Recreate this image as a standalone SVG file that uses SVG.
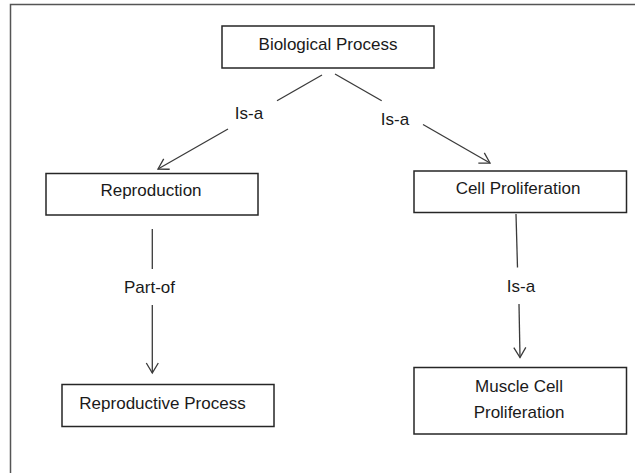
<svg xmlns="http://www.w3.org/2000/svg" width="635" height="473" viewBox="0 0 635 473">
  <style>
    .box { fill: #ffffff; stroke: #262626; stroke-width: 1.5; }
    .lbl { font-family: "Liberation Sans", Arial, sans-serif; font-size: 17px; fill: #1a1a1a; text-anchor: middle; }
    .edge { fill: none; stroke: #3a3a3a; stroke-width: 1.3; }
    .frame { fill: none; stroke: #555555; stroke-width: 1.5; }
  </style>
  <defs>
    <marker id="open-v" viewBox="-12 -7 14 14" refX="0" refY="0" markerWidth="14" markerHeight="14" markerUnits="userSpaceOnUse" orient="auto">
      <path d="M-10,-6 L0,0 L-10,6" fill="none" stroke="#3a3a3a" stroke-width="1.3"/>
    </marker>
  </defs>

  <rect width="635" height="473" fill="#ffffff"/>
  <path class="frame" d="M10.5,473 V4.5 H635"/>

  <g id="connectors">
    <!-- Biological Process -> Reproduction (Is-a) -->
    <line class="edge" x1="322" y1="75" x2="277" y2="100.8"/>
    <line class="edge" x1="228" y1="129" x2="158" y2="169" marker-end="url(#open-v)"/>
    <text class="lbl" x="249" y="119">Is-a</text>
    <!-- Biological Process -> Cell Proliferation (Is-a) -->
    <line class="edge" x1="335" y1="74" x2="381.7" y2="100.8"/>
    <line class="edge" x1="423" y1="124.5" x2="490" y2="163" marker-end="url(#open-v)"/>
    <text class="lbl" x="395" y="124.5">Is-a</text>
    <!-- Reproduction -> Reproductive Process (Part-of) -->
    <line class="edge" x1="152.3" y1="229" x2="152.3" y2="269"/>
    <line class="edge" x1="152.3" y1="305" x2="152.3" y2="373" marker-end="url(#open-v)"/>
    <text class="lbl" x="149.5" y="292.5">Part-of</text>
    <!-- Cell Proliferation -> Muscle Cell Proliferation (Is-a) -->
    <line class="edge" x1="516" y1="214" x2="517.5" y2="267.5"/>
    <line class="edge" x1="519" y1="304" x2="520" y2="357.5" marker-end="url(#open-v)"/>
    <text class="lbl" x="521" y="291.5">Is-a</text>
  </g>

  <g id="biological-process">
    <rect class="box" x="222" y="26" width="212" height="42"/>
    <text class="lbl" x="328" y="49.5">Biological Process</text>
  </g>
  <g id="reproduction">
    <rect class="box" x="46" y="173.5" width="212" height="41.5"/>
    <text class="lbl" x="151" y="195.5">Reproduction</text>
  </g>
  <g id="cell-proliferation">
    <rect class="box" x="414" y="171" width="212.5" height="41.5"/>
    <text class="lbl" x="518" y="193.5">Cell Proliferation</text>
  </g>
  <g id="reproductive-process">
    <rect class="box" x="62" y="384.5" width="212" height="42"/>
    <text class="lbl" x="162.5" y="409">Reproductive Process</text>
  </g>
  <g id="muscle-cell-proliferation">
    <rect class="box" x="414" y="367.5" width="212.5" height="66.5"/>
    <text class="lbl" x="519" y="391.5">Muscle Cell</text>
    <text class="lbl" x="519" y="417.5">Proliferation</text>
  </g>
</svg>
